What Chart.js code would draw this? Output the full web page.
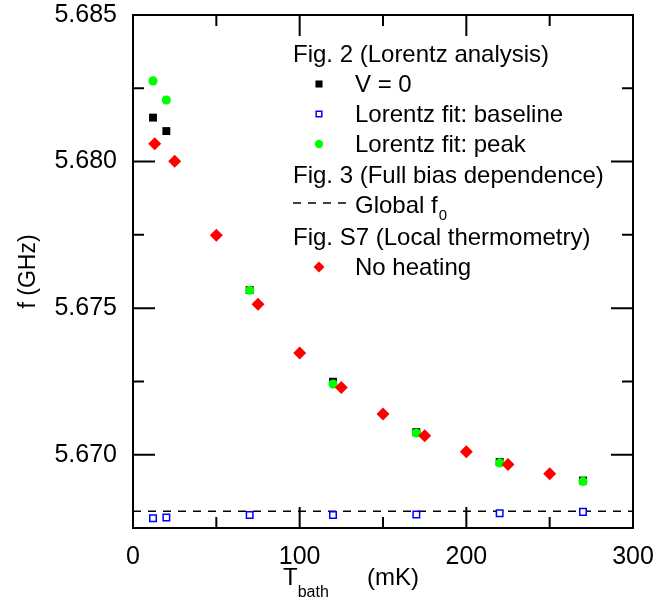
<!DOCTYPE html>
<html>
<head>
<meta charset="utf-8">
<script src="https://cdn.jsdelivr.net/npm/chart.js@4.4.0/dist/chart.umd.min.js"></script>
<style>
  html, body { margin: 0; padding: 0; background: #fff; }
  #wrap { width: 657px; height: 608px; }
</style>
</head>
<body>
<div id="wrap"><canvas id="chart" width="657" height="608"></canvas></div>
<script>
// Fig. 2 (Lorentz analysis) temperatures, mK
const tLorentz = [12, 20, 70, 120, 170, 220, 270];
const fZeroBias = [5.68150, 5.68104, 5.67562, 5.67249, 5.67077, 5.66975, 5.66912];
const fBaseline = [5.66783, 5.66786, 5.66794, 5.66794, 5.66796, 5.66800, 5.66805];
const fPeak = [5.68275, 5.68210, 5.67561, 5.67241, 5.67074, 5.66972, 5.66909];

// Fig. 3 global f0 (GHz)
const globalF0 = 5.66807;

// Fig. S7 (Local thermometry), no heating
const tNoHeating = [13, 25, 50, 75, 100, 125, 150, 175, 200, 225, 250];
const fNoHeating = [5.68061, 5.68001, 5.67749, 5.67513, 5.67347, 5.67229, 5.67139, 5.67065, 5.67010, 5.66967, 5.66935];

const xRange = [0, 300];
const yRange = [5.6675, 5.685];
const xTickLabels = ['0', '100', '200', '300'];
const yTickLabels = ['5.670', '5.675', '5.680', '5.685'];

const FONT = 'Liberation Sans, Arial, sans-serif';

const toPoints = (xs, ys) => xs.map((x, i) => ({ x, y: ys[i] }));

const datasets = [
    {
        label: 'No heating',
        data: toPoints(tNoHeating, fNoHeating),
        pointStyle: 'rectRot',
        pointRadius: 6.5,
        backgroundColor: '#ff0000',
        borderColor: '#ff0000',
        borderWidth: 0,
        order: 1
    },
    {
        label: 'Lorentz fit: peak',
        data: toPoints(tLorentz, fPeak),
        pointStyle: 'circle',
        pointRadius: 4.6,
        backgroundColor: '#00ff00',
        borderColor: '#00ff00',
        borderWidth: 0,
        order: 2
    },
    {
        label: 'Lorentz fit: baseline',
        data: toPoints(tLorentz, fBaseline),
        pointStyle: 'rect',
        pointRadius: 4.6,
        backgroundColor: '#ffffff',
        borderColor: '#0000ff',
        borderWidth: 1.5,
        order: 3
    },
    {
        label: 'V = 0',
        data: toPoints(tLorentz, fZeroBias),
        pointStyle: 'rect',
        pointRadius: 5.6,
        backgroundColor: '#000000',
        borderColor: '#000000',
        borderWidth: 0,
        order: 4
    },
    {
        label: 'Global f0',
        data: toPoints(xRange, [globalF0, globalF0]),
        showLine: true,
        borderColor: '#000000',
        borderWidth: 1.5,
        borderDash: [8, 7],
        pointRadius: 0,
        order: 5
    }
];

// Box frame plus inward ticks on all four sides
const frameAndTicks = {
    id: 'frameAndTicks',
    afterDatasetsDraw(chart) {
        const { ctx, chartArea: a, scales } = chart;
        ctx.save();
        ctx.strokeStyle = '#000';
        ctx.lineWidth = 2;
        ctx.strokeRect(a.left, a.top, a.right - a.left, a.bottom - a.top);
        ctx.beginPath();
        scales.x.ticks.forEach(t => {
            const px = scales.x.getPixelForValue(t.value);
            const len = t.label ? 21 : 11;
            ctx.moveTo(px, a.bottom);
            ctx.lineTo(px, a.bottom - len);
            ctx.moveTo(px, a.top);
            ctx.lineTo(px, a.top + len);
        });
        scales.y.ticks.forEach(t => {
            const py = scales.y.getPixelForValue(t.value);
            const len = t.label ? 22 : 11;
            ctx.moveTo(a.left, py);
            ctx.lineTo(a.left + len, py);
            ctx.moveTo(a.right, py);
            ctx.lineTo(a.right - len, py);
        });
        ctx.stroke();
        ctx.restore();
    }
};

// T_bath (mK) with subscript
const xTitle = {
    id: 'xTitle',
    afterDraw(chart) {
        const { ctx, chartArea: a } = chart;
        const x0 = a.left + 150;
        const base = a.bottom + 57;
        ctx.save();
        ctx.fillStyle = '#000';
        ctx.textBaseline = 'alphabetic';
        ctx.font = '24px ' + FONT;
        ctx.fillText('T', x0, base);
        const tw = ctx.measureText('T').width;
        ctx.font = '16px ' + FONT;
        ctx.fillText('bath', x0 + tw, base + 12);
        ctx.font = '24px ' + FONT;
        ctx.fillText('(mK)', a.left + 234, base);
        ctx.restore();
    }
};

// Grouped legend inside the plot
const groupedLegend = {
    id: 'groupedLegend',
    afterDraw(chart) {
        const { ctx, chartArea: a } = chart;
        const headX = a.left + 160;
        const markX = a.left + 186;
        const textX = a.left + 222;
        const rows = [
            { text: 'Fig. 2 (Lorentz analysis)', head: true, dy: 47 },
            { text: 'V = 0', ds: 3, dy: 77, r: 5 },
            { text: 'Lorentz fit: baseline', ds: 2, dy: 107, r: 4 },
            { text: 'Lorentz fit: peak', ds: 1, dy: 137, r: 4.2 },
            { text: 'Fig. 3 (Full bias dependence)', head: true, dy: 168 },
            { text: 'Global f', dash: true, dy: 198 },
            { text: 'Fig. S7 (Local thermometry)', head: true, dy: 230 },
            { text: 'No heating', ds: 0, dy: 260, r: 5.5 }
        ];
        ctx.save();
        ctx.textBaseline = 'alphabetic';
        rows.forEach(row => {
            const y = a.top + row.dy;
            ctx.font = '24px ' + FONT;
            ctx.fillStyle = '#000';
            if (row.head) {
                ctx.fillText(row.text, headX, y);
                return;
            }
            if (row.dash) {
                ctx.save();
                ctx.strokeStyle = '#000';
                ctx.lineWidth = 1.5;
                ctx.setLineDash([8, 7]);
                ctx.beginPath();
                ctx.moveTo(headX, y - 10);
                ctx.lineTo(textX - 6, y - 10);
                ctx.stroke();
                ctx.restore();
                ctx.fillText(row.text, textX, y);
                const w = ctx.measureText(row.text).width;
                ctx.font = '15px ' + FONT;
                ctx.fillText('0', textX + w + 1, y + 7);
                return;
            }
            const d = datasets[row.ds];
            ctx.save();
            ctx.fillStyle = d.backgroundColor;
            ctx.strokeStyle = d.borderColor;
            ctx.lineWidth = d.borderWidth;
            Chart.helpers.drawPoint(ctx, {
                pointStyle: d.pointStyle,
                radius: row.r,
                borderWidth: d.borderWidth
            }, markX, y - 8);
            ctx.restore();
            ctx.fillText(row.text, textX, y);
        });
        ctx.restore();
    }
};

// keep the plot box where the reference has it
const noLabelPadding = (scale) => {
    scale.paddingTop = 0;
    scale.paddingBottom = 0;
    scale.paddingLeft = 0;
    scale.paddingRight = 0;
};

Chart.defaults.font.family = FONT;
Chart.defaults.color = '#000';

new Chart(document.getElementById('chart'), {
    type: 'scatter',
    data: { datasets },
    options: {
        responsive: false,
        animation: false,
        layout: { padding: { top: 15, right: 24, left: 0, bottom: 0 } },
        plugins: {
            legend: { display: false },
            tooltip: { enabled: false }
        },
        scales: {
            x: {
                type: 'linear',
                min: xRange[0],
                max: xRange[1],
                grid: { display: false, drawTicks: false },
                border: { display: false },
                ticks: {
                    stepSize: 50,
                    autoSkip: false,
                    maxRotation: 0,
                    padding: 14,
                    font: { size: 25 },
                    callback: (v) => xTickLabels.includes(String(v)) ? String(v) : ''
                },
                afterFit: (scale) => {
                    scale.height = 80;
                    noLabelPadding(scale);
                }
            },
            y: {
                type: 'linear',
                min: yRange[0],
                max: yRange[1],
                grid: { display: false, drawTicks: false },
                border: { display: false },
                ticks: {
                    stepSize: 0.0025,
                    autoSkip: false,
                    padding: 16,
                    font: { size: 25 },
                    callback: (v) => yTickLabels.includes(v.toFixed(3)) ? v.toFixed(3) : ''
                },
                title: {
                    display: true,
                    text: 'f (GHz)',
                    font: { size: 23 },
                    padding: { top: 15, bottom: 0 }
                },
                afterFit: (scale) => {
                    scale.width = 133;
                    noLabelPadding(scale);
                }
            }
        }
    },
    plugins: [frameAndTicks, xTitle, groupedLegend]
});
</script>
</body>
</html>
